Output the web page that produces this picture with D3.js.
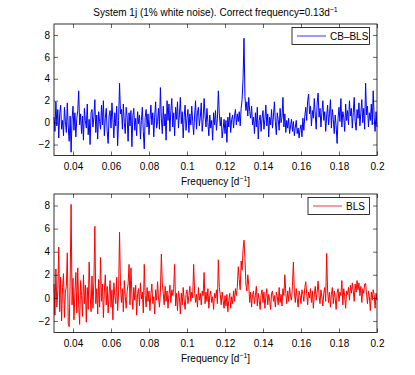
<!DOCTYPE html>
<html><head><meta charset="utf-8">
<script src="https://cdn.jsdelivr.net/npm/d3@7"></script>
<style>body{margin:0;background:#fff}svg{display:block}text{font-family:"Liberation Sans",Arial,sans-serif}</style>
</head><body><div id="chart"></div>
<script>
// frequency grid: 0.03 .. 0.2 step 0.0005
const fStart = 0.03, fStep = 0.0005;
const xTicks = [0.04,0.06,0.08,0.1,0.12,0.14,0.16,0.18,0.2];
const yTicks = [-2,0,2,4,6,8];
const cbblsValues = [
 0.5,-0.8,1.9,-0.3,1.2,-1.4,0.8,1.6,-0.6,0.2,
 -1.2,1.4,0.1,-0.9,1.8,-0.4,-1.7,0.6,-2.7,0.3,
 1.5,-0.7,0.9,-1.3,0.4,1.1,2.9,-0.2,0.8,-1.0,
 0.6,-1.6,1.3,0.2,-0.5,1.7,-1.1,0.3,-2.0,0.9,
 1.2,-0.4,0.5,2.1,-0.9,0.7,-1.5,1.0,0.1,-0.6,
 1.6,-0.2,2.0,-1.2,0.4,1.3,-0.8,-1.9,0.6,1.1,
 -0.5,1.8,0.3,-1.4,0.9,-0.3,1.5,-2.1,0.2,3.6,
 0.8,1.2,-0.6,1.7,0.0,-1.0,1.4,0.5,-1.7,0.9,
 -0.3,1.1,-2.2,0.6,1.3,-0.7,0.4,-1.2,1.0,-0.1,
 0.7,-1.5,0.2,1.4,-0.8,-2.4,0.5,1.2,-0.4,0.8,
 -1.1,0.3,1.6,-0.2,0.9,-1.3,0.6,1.9,-0.5,0.1,
 1.3,-0.6,3.2,0.4,-1.0,1.5,-0.3,0.8,-1.6,2.0,
 0.2,1.7,-0.8,1.1,2.2,-0.4,0.9,-1.2,1.4,0.3,
 1.9,-0.5,0.7,2.3,-0.1,1.0,-1.4,0.5,1.6,-0.7,
 0.4,1.2,-0.9,0.8,-0.2,1.5,0.1,-1.1,0.6,2.0,
 -0.6,0.9,1.4,-0.3,0.5,1.8,-0.8,0.3,2.2,0.6,
 -0.4,1.3,0.0,-1.2,0.7,-0.5,0.2,-1.6,0.9,-0.2,
 1.1,-0.7,0.4,2.9,0.8,-0.3,0.5,-1.4,-0.6,0.3,
 -1.0,0.2,-1.8,0.5,-0.4,0.9,-0.9,0.3,0.7,-0.5,
 0.6,1.2,-0.2,0.8,0.1,1.0,-0.3,1.3,2.1,4.0,
 7.7,2.4,1.1,1.9,0.6,2.3,1.0,0.4,1.5,-0.2,
 0.5,-1.0,0.9,-0.4,1.4,-1.5,0.2,0.7,-0.8,0.4,
 1.1,-0.6,0.3,1.6,-0.3,0.8,-1.3,0.5,-0.2,1.2,
 -0.5,0.6,1.9,0.1,-1.1,0.9,0.3,-0.7,1.3,0.0,
 0.5,2.3,-0.4,0.8,-0.9,0.2,-0.5,0.4,-1.0,-0.3,
 0.3,-0.8,0.1,-1.2,-0.4,0.2,-1.0,-0.5,-1.4,-0.6,
 -0.2,-1.3,0.4,-0.7,0.6,1.4,0.2,2.0,2.6,0.8,
 1.5,-0.3,1.1,0.4,2.2,0.7,-0.6,1.8,2.7,0.5,
 1.3,-0.4,0.9,2.0,0.2,1.0,-0.8,0.6,1.6,-0.2,
 0.8,2.1,-0.5,1.2,0.3,-1.0,0.7,-0.3,-1.9,0.4,
 1.4,0.1,2.2,-0.4,1.0,0.5,-0.8,1.7,0.2,1.1,
 -0.2,2.0,0.6,1.3,-0.5,0.9,2.3,0.1,-0.7,1.2,
 0.4,1.8,-0.3,0.9,2.1,0.0,1.3,-0.6,3.6,0.7,
 1.5,-0.4,0.9,0.2,1.7,-0.2,2.9,0.5,-0.8,1.0,
 -0.4
];
const blsValues = [
 1.2,-1.5,2.5,-0.8,0.6,4.4,-1.2,1.8,-2.0,0.9,
 2.1,-1.7,0.5,1.0,3.9,-2.2,-2.5,1.3,8.1,-0.6,
 1.7,-1.9,0.4,2.2,-1.3,2.6,-0.7,-2.3,1.5,0.2,
 -1.6,2.0,-0.5,1.1,-2.1,0.9,-1.0,3.1,0.3,-1.2,
 1.9,-0.9,1.4,6.2,-0.5,0.8,-1.4,1.6,-0.8,3.5,
 -0.3,1.2,-1.7,0.6,2.0,-0.6,1.0,-1.3,0.4,1.5,
 -0.8,0.7,-1.9,1.3,0.2,-0.5,1.8,-1.1,0.5,5.7,
 1.0,-0.4,0.8,-1.2,1.5,0.1,-0.9,0.6,1.2,2.9,
 -0.6,2.6,0.3,-1.0,0.9,-0.2,1.1,-1.5,0.4,0.8,
 -0.7,1.3,-0.1,0.5,-1.3,2.9,0.2,-0.8,0.9,-0.3,
 0.6,-1.1,0.3,1.2,-0.5,0.1,-1.4,0.7,-0.2,1.4,
 0.0,-0.8,0.5,3.8,1.2,0.4,-0.6,1.0,-0.3,0.6,
 -0.9,0.3,1.1,-0.4,0.7,0.2,0.8,2.9,-0.7,0.4,
 -1.1,0.6,0.1,-1.4,0.4,-0.6,0.9,-0.2,-1.0,0.3,
 0.7,-0.5,0.2,1.0,-0.3,0.5,0.0,2.9,0.6,-0.4,
 0.3,-0.8,0.9,-0.2,0.4,-0.6,0.6,0.2,2.2,-0.5,
 0.5,-0.3,0.8,-0.9,0.2,0.6,-0.4,0.1,-1.0,0.4,
 0.0,0.7,-0.5,3.3,0.9,0.3,-0.6,0.5,-0.2,-0.9,
 0.2,-0.7,0.3,-1.2,-0.2,0.4,-0.9,0.1,-0.5,0.6,
 -0.3,0.8,0.2,1.0,2.7,1.6,0.7,3.2,2.4,4.2,
 5.0,3.4,1.2,0.6,2.0,1.1,-0.4,0.5,-0.8,0.3,
 0.6,-0.5,0.2,1.0,-0.7,0.4,-0.2,-1.0,0.3,0.7,
 -0.4,0.5,-0.9,0.1,0.8,-0.6,0.3,-0.2,-1.0,0.4,
 0.6,-0.3,0.2,-0.8,0.5,0.1,-0.6,0.9,-0.4,0.3,
 -0.7,0.8,0.2,2.0,0.4,-0.5,0.6,-0.3,0.9,0.1,
 -0.2,1.1,3.1,0.5,-0.4,0.8,0.0,-0.8,0.6,0.2,
 -0.5,0.7,0.3,-0.3,0.9,1.4,0.4,-0.6,0.5,0.0,
 0.8,-0.4,0.6,-0.9,0.3,1.0,-0.2,0.5,1.45,0.2,
 -0.5,0.7,0.1,-0.7,0.4,0.9,-0.3,3.85,0.6,-0.4,
 0.5,-0.8,0.3,0.9,-0.5,0.6,0.0,-1.0,0.4,0.8,
 -0.3,0.5,0.2,1.5,-0.6,0.8,0.1,-0.9,0.6,0.3,
 0.9,-0.2,1.1,0.4,1.3,0.6,-0.3,1.2,0.5,1.5,
 0.7,1.3,0.2,1.0,-0.4,0.8,0.4,1.2,1.25,0.3,
 -0.5,0.6,0.1,-1.1,0.5,-0.2,0.7,0.3,-0.9,0.4,
 -0.2
];
const panels = [
  {name:"CB\u2013BLS", values:cbblsValues, color:"#0000ff", top:24, bottom:155.5},
  {name:"BLS", values:blsValues, color:"#ff0000", top:194, bottom:332.5}
];
const W = 415, H = 375, left = 54, right = 377;
const svg = d3.select("#chart").append("svg").attr("width",W).attr("height",H);

svg.append("text").attr("x",215.5).attr("y",16).attr("text-anchor","middle").attr("font-size",10)
  .text("System 1j (1% white noise). Correct frequency=0.13d")
  .append("tspan").attr("font-size",7).attr("dy",-4).text("\u22121");

const x = d3.scaleLinear().domain([0.03,0.2]).range([left,right]);
const fmt = v => (v<0?"\u2212":"") + String(Math.abs(v));

panels.forEach(p => {
  const y = d3.scaleLinear().domain([-3,9]).range([p.bottom,p.top]);
  const g = svg.append("g");
  const data = p.values.map((v,i)=>({f:fStart+i*fStep, v}));
  g.append("path").datum(data)
    .attr("fill","none").attr("stroke",p.color).attr("stroke-width",1)
    .attr("d", d3.line().x(d=>x(d.f)).y(d=>y(d.v)));
  const ax = (axis, tr) => {
    const a = g.append("g").attr("transform",tr).call(axis);
    a.select(".domain").remove();
    a.selectAll("line").attr("stroke","#000").attr("stroke-width",0.6);
    a.selectAll("text").attr("font-size",10).attr("font-family","'Liberation Sans',Arial,sans-serif").attr("fill","#000");
    return a;
  };
  ax(d3.axisBottom(x).tickValues(xTicks).tickSize(-4).tickPadding(7).tickFormat(d=>String(d)), `translate(0,${p.bottom})`);
  ax(d3.axisTop(x).tickValues(xTicks).tickSize(-4).tickFormat(""), `translate(0,${p.top})`);
  ax(d3.axisLeft(y).tickValues(yTicks).tickSize(-4).tickPadding(4).tickFormat(fmt), `translate(${left},0)`);
  ax(d3.axisRight(y).tickValues(yTicks).tickSize(-4).tickFormat(""), `translate(${right},0)`);
  g.append("rect").attr("x",left).attr("y",p.top).attr("width",right-left).attr("height",p.bottom-p.top)
    .attr("fill","none").attr("stroke","#000").attr("stroke-width",0.8);
  const xl = g.append("text").attr("x",215.5).attr("y",p.bottom+29).attr("text-anchor","middle").attr("font-size",10)
    .text("Frequency [d");
  xl.append("tspan").attr("font-size",7).attr("dy",-4).text("\u22121");
  xl.append("tspan").attr("dy",4).text("]");
  const lw = p.name.length>3 ? 77.5 : 61.5;
  const lx = 369.5 - lw, ly = p.top + 3.5;
  g.append("rect").attr("x",lx).attr("y",ly).attr("width",lw).attr("height",17)
    .attr("fill","#fff").attr("stroke","#000").attr("stroke-width",0.8);
  g.append("line").attr("x1",lx+5).attr("x2",lx+34).attr("y1",ly+8.5).attr("y2",ly+8.5)
    .attr("stroke",p.color).attr("stroke-width",0.8);
  g.append("text").attr("x",lx+38).attr("y",ly+12.5).attr("font-size",10).text(p.name);
});
</script></body></html>
